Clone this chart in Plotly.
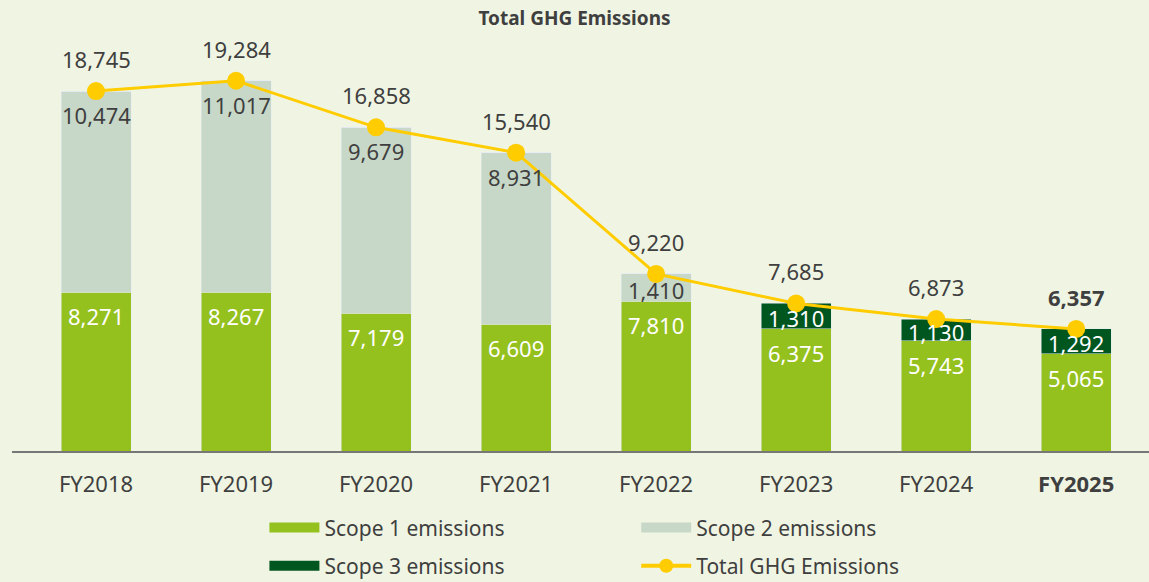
import plotly.graph_objects as go

categories = ["FY2018", "FY2019", "FY2020", "FY2021", "FY2022", "FY2023", "FY2024", "FY2025"]
scope1 = [8271, 8267, 7179, 6609, 7810, 6375, 5743, 5065]
scope2 = [10474, 11017, 9679, 8931, 1410, 0, 0, 0]
scope3 = [0, 0, 0, 0, 0, 1310, 1130, 1292]
totals = [18745, 19284, 16858, 15540, 9220, 7685, 6873, 6357]

FONT = "Noto Sans"
BG = "#F0F5E3"
C1, C2, C3, CL = "#95C11F", "#C8D8C8", "#00561F", "#FFCC00"
TXT = "#3F3F3F"

x = list(range(len(categories)))
fig = go.Figure()
fig.add_bar(x=x, y=scope1, marker_color=C1, showlegend=False, hoverinfo="skip")
fig.add_bar(x=x, y=scope2, marker_color=C2, showlegend=False, hoverinfo="skip")
fig.add_bar(x=x, y=scope3, marker_color=C3, showlegend=False, hoverinfo="skip")

fig.add_scatter(x=x, y=totals, mode="lines+markers",
                line=dict(color=CL, width=3), marker=dict(color=CL, size=18),
                showlegend=False, cliponaxis=False, hoverinfo="skip")

# legend proxies
fig.add_scatter(x=[None], y=[None], mode="lines", line=dict(color=C1, width=14),
                name="Scope 1 emissions", legend="legend", legendgroup="a")
fig.add_scatter(x=[None], y=[None], mode="lines", line=dict(color=C3, width=14),
                name="Scope 3 emissions", legend="legend", legendgroup="b")
fig.add_scatter(x=[None], y=[None], mode="lines", line=dict(color=C2, width=14),
                name="Scope 2 emissions", legend="legend2", legendgroup="c")
fig.add_scatter(x=[None], y=[None], mode="lines+markers", line=dict(color=CL, width=4),
                marker=dict(color=CL, size=14),
                name="Total GHG Emissions", legend="legend2", legendgroup="d")

ann = []
for i in x:
    ttxt = f"{totals[i]:,}"
    if i == len(x) - 1:
        ttxt = f"<b>{ttxt}</b>"
    ann.append(dict(x=i, y=totals[i], yshift=32, text=ttxt, showarrow=False,
                    font=dict(size=22, color=TXT, family=FONT), yanchor="middle"))
    ann.append(dict(x=i, y=scope1[i], yshift=-24, text=f"{scope1[i]:,}", showarrow=False,
                    font=dict(size=22, color="white", family=FONT), yanchor="middle"))
    if scope2[i] > 0:
        top = scope1[i] + scope2[i]
        if scope2[i] < 2000:
            ann.append(dict(x=i, y=scope1[i] + scope2[i] / 2, yshift=-2, text=f"{scope2[i]:,}",
                            showarrow=False, font=dict(size=22, color=TXT, family=FONT), yanchor="middle"))
        else:
            ann.append(dict(x=i, y=top, yshift=-24, text=f"{scope2[i]:,}", showarrow=False,
                            font=dict(size=22, color=TXT, family=FONT), yanchor="middle"))
    if scope3[i] > 0:
        ann.append(dict(x=i, y=scope1[i] + scope3[i] / 2, yshift=-2, text=f"{scope3[i]:,}",
                        showarrow=False, font=dict(size=22, color="white", family=FONT), yanchor="middle"))

ticktext = categories[:-1] + [f"<b>{categories[-1]}</b>"]

fig.update_layout(
    width=1149, height=582,
    barmode="stack", bargap=0.5,
    paper_bgcolor=BG, plot_bgcolor=BG,
    margin=dict(l=12, r=0, t=40, b=131, autoexpand=False),
    font=dict(family=FONT, color=TXT, size=20),
    title=dict(text="<b>Total GHG Emissions</b>", x=0.5, xanchor="center", y=1 - 18 / 582, yanchor="middle",
               font=dict(size=19, color=TXT, family=FONT)),
    xaxis=dict(range=[-0.6, 7.52], tickvals=x, ticktext=ticktext, showgrid=False, zeroline=False,
               showline=True, linecolor="#777777", linewidth=2, ticks="", ticklabelstandoff=13,
               tickfont=dict(size=22, color=TXT, family=FONT), fixedrange=True, automargin=False),
    yaxis=dict(range=[0, 21406], visible=False, showgrid=False, zeroline=False),
    annotations=ann,
    legend=dict(x=0.222, y=-0.137, xanchor="left", yanchor="top", orientation="v",
                bgcolor="rgba(0,0,0,0)", font=dict(size=21, color=TXT, family=FONT),
                itemwidth=50, tracegroupgap=8, traceorder="grouped"),
    legend2=dict(x=0.549, y=-0.137, xanchor="left", yanchor="top", orientation="v",
                 bgcolor="rgba(0,0,0,0)", font=dict(size=21, color=TXT, family=FONT),
                 itemwidth=50, tracegroupgap=8, traceorder="grouped"),
)

fig.write_html("out.html", config={"displayModeBar": False},
               post_script="document.body.style.margin='0';document.body.style.background='" + BG + "';")
